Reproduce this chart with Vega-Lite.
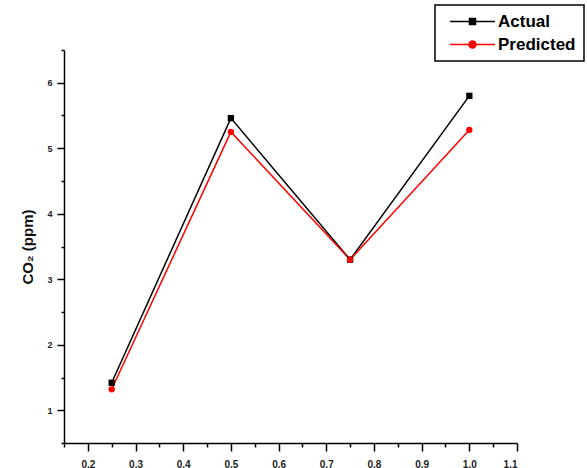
{
  "$schema": "https://vega.github.io/schema/vega-lite/v6.json",
  "autosize": {"type": "none"},
  "width": 453,
  "height": 393,
  "padding": {"left": 64, "top": 50, "right": 70, "bottom": 25},
  "background": "white",
  "config": {
    "view": {"stroke": null},
    "font": "Liberation Sans",
    "axis": {
      "grid": false,
      "domainColor": "black",
      "domainWidth": 1.5,
      "tickColor": "black",
      "tickWidth": 1.5,
      "labelFont": "Liberation Sans",
      "labelFontSize": 9,
      "labelFontWeight": "bold",
      "labelColor": "#222",
      "titleFont": "Liberation Sans",
      "titleColor": "#111"
    }
  },
  "data": {
    "values": [
      {"x": 0.25, "y": 1.42, "series": "Actual"},
      {"x": 0.5, "y": 5.46, "series": "Actual"},
      {"x": 0.75, "y": 3.3, "series": "Actual"},
      {"x": 1.0, "y": 5.8, "series": "Actual"},
      {"x": 0.25, "y": 1.32, "series": "Predicted"},
      {"x": 0.5, "y": 5.25, "series": "Predicted"},
      {"x": 0.75, "y": 3.3, "series": "Predicted"},
      {"x": 1.0, "y": 5.28, "series": "Predicted"}
    ]
  },
  "encoding": {
    "x": {
      "field": "x",
      "type": "quantitative",
      "scale": {"domain": [0.15, 1.1], "nice": false, "zero": false},
      "axis": {
        "title": null,
        "values": [0.15, 0.2, 0.25, 0.3, 0.35, 0.4, 0.45, 0.5, 0.55, 0.6, 0.65, 0.7, 0.75, 0.8, 0.85, 0.9, 0.95, 1.0, 1.05, 1.1],
        "labelExpr": "round(datum.value*100) % 10 == 0 ? format(datum.value, '.1f') : ''",
        "tickSize": {"condition": {"test": "round(datum.value*100) % 10 == 0", "value": 8}, "value": 4},
        "labelFontSize": 10,
        "labelPadding": 8
      }
    },
    "y": {
      "field": "y",
      "type": "quantitative",
      "scale": {"domain": [0.5, 6.5], "nice": false, "zero": false},
      "axis": {
        "title": "CO₂ (ppm)",
        "titleFontSize": 15,
        "titleFontWeight": "bold",
        "titlePadding": 11,
        "values": [0.5, 1, 1.5, 2, 2.5, 3, 3.5, 4, 4.5, 5, 5.5, 6, 6.5],
        "labelExpr": "datum.value % 1 == 0 ? format(datum.value, 'd') : ''",
        "tickSize": {"condition": {"test": "datum.value % 1 == 0", "value": 7}, "value": 3},
        "labelPadding": 5
      }
    },
    "color": {
      "field": "series",
      "type": "nominal",
      "scale": {"domain": ["Actual", "Predicted"], "range": ["black", "red"]},
      "legend": {
        "title": null,
        "orient": "none",
        "legendX": 371,
        "legendY": -45,
        "strokeColor": "black",
        "fillColor": "white",
        "padding": 8,
        "labelFont": "Liberation Sans",
        "labelFontSize": 17,
        "labelFontWeight": "bold",
        "labelColor": "black",
        "symbolSize": 100,
        "labelOffset": 38,
        "rowPadding": 5,
        "encode": {
          "legend": {"update": {"strokeWidth": {"value": 1.5}}},
          "symbols": {
            "update": {
              "shape": {"signal": "datum.value === 'Actual' ? 'M-0.3,0H8.7M3.6,-0.6H4.8V0.6H3.6Z' : 'M-0.3,0H8.7M4.2,-0.7A0.7,0.7,0,1,1,4.2,0.7A0.7,0.7,0,1,1,4.2,-0.7Z'"},
              "fill": {"signal": "datum.value === 'Actual' ? 'black' : 'red'"},
              "stroke": {"signal": "datum.value === 'Actual' ? 'black' : 'red'"},
              "strokeWidth": {"value": 1.5},
              "opacity": {"value": 1}
            }
          }
        }
      }
    }
  },
  "layer": [
    {"mark": {"type": "line", "strokeWidth": 1.5}},
    {
      "transform": [{"filter": "datum.series === 'Actual'"}],
      "mark": {"type": "point", "shape": "square", "filled": true, "opacity": 1, "size": 40}
    },
    {
      "transform": [{"filter": "datum.series === 'Predicted'"}],
      "mark": {"type": "point", "shape": "circle", "filled": true, "opacity": 1, "size": 40}
    }
  ]
}
